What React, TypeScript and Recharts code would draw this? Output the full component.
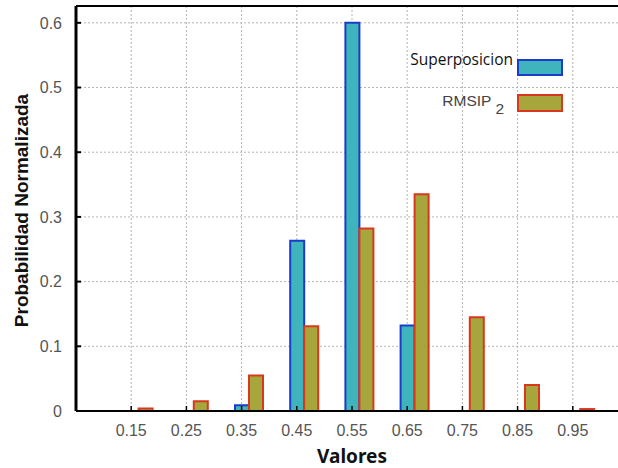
import React from 'react'
import { BarChart, Bar, XAxis, YAxis, CartesianGrid, Legend, Label } from 'recharts'

// bins (centre of each histogram bin) and normalised probabilities
const categories = ['0.15', '0.25', '0.35', '0.45', '0.55', '0.65', '0.75', '0.85', '0.95']
const binCenters = [0.15, 0.25, 0.35, 0.45, 0.55, 0.65, 0.75, 0.85, 0.95]
const superposicion = [0, 0, 0.009, 0.263, 0.6, 0.132, 0, 0, 0]
const rmsip2 = [0.004, 0.015, 0.055, 0.131, 0.282, 0.335, 0.145, 0.04, 0.003]
const yTicks = [0, 0.1, 0.2, 0.3, 0.4, 0.5, 0.6]

const data = categories.map((label, i) => ({
  label,
  x: binCenters[i],
  superposicion: superposicion[i],
  rmsip2: rmsip2[i],
}))

const CHART_W = 640
const CHART_H = 468
const MARGIN = { top: 5, right: 12, bottom: 0, left: 0 }
const TOP_AXIS_H = 1
const Y_AXIS_W = 76
const X_AXIS_H = 57
const X_MIN = 0.05
const X_MAX = 1.05
const Y_MAX = 0.626
const BAR = 14
const TICK_LEN = 5

// the hidden band axis is padded so the first bar of each pair is centred on its tick
const plotW = CHART_W - MARGIN.left - MARGIN.right - Y_AXIS_W
const pxPerUnit = plotW / (X_MAX - X_MIN)
const bandW = 0.1 * pxPerUnit
const padLeft = (binCenters[0] - X_MIN) * pxPerUnit - bandW / 2 + BAR / 2
const padRight = plotW - padLeft - bandW * categories.length

const tickFont = { fill: '#555', fontSize: 16, fontFamily: 'Liberation Sans, Arial, sans-serif' }

const renderLegend = () => (
  <div style={{ position: 'relative', width: 170, height: 70 }}>
    <div
      style={{
        position: 'absolute',
        right: 57,
        top: 3,
        lineHeight: '16px',
        fontSize: 15.5,
        fontFamily: 'Open Sans, sans-serif',
        color: '#111',
        whiteSpace: 'nowrap',
      }}
    >
      Superposicion
    </div>
    <div
      style={{
        position: 'absolute',
        left: 117,
        top: 11,
        width: 46,
        height: 17,
        boxSizing: 'border-box',
        border: '2px solid #1a3ccc',
        background: '#3fb4bc',
      }}
    />
    <div
      style={{
        position: 'absolute',
        right: 66,
        top: 45,
        lineHeight: '16px',
        fontSize: 15.5,
        fontFamily: 'Liberation Sans, Arial, sans-serif',
        color: '#444',
        whiteSpace: 'nowrap',
      }}
    >
      RMSIP
      <span style={{ position: 'relative', top: 8, marginLeft: 4 }}>2</span>
    </div>
    <div
      style={{
        position: 'absolute',
        left: 117,
        top: 46,
        width: 46,
        height: 18,
        boxSizing: 'border-box',
        border: '2px solid #d9381e',
        background: '#a6a63c',
      }}
    />
  </div>
)

export default function App() {
  return (
    <div
      style={{
        position: 'absolute',
        left: 0,
        top: 0,
        width: 618,
        height: 468,
        overflow: 'hidden',
        background: '#fff',
      }}
    >
      <BarChart width={CHART_W} height={CHART_H} data={data} margin={MARGIN} barGap={0}>
        <CartesianGrid xAxisId='num' strokeDasharray='2 2' stroke='#b4b4b4' />

        {/* band axis only used to place the bars */}
        <XAxis xAxisId='cat' dataKey='label' hide height={0} padding={{ left: padLeft, right: padRight }} />

        {/* visible value axis at the bottom */}
        <XAxis
          xAxisId='num'
          type='number'
          dataKey='x'
          domain={[X_MIN, X_MAX]}
          ticks={binCenters}
          tickFormatter={(v: number) => v.toFixed(2)}
          height={X_AXIS_H}
          tickSize={-TICK_LEN}
          tickMargin={19}
          tick={tickFont}
          axisLine={{ stroke: '#000', strokeWidth: 2 }}
          tickLine={{ stroke: '#000', strokeWidth: 1.5 }}
        >
          <Label
            content={({ viewBox }: any) => (
              <text
                x={viewBox.x + viewBox.width / 2}
                y={viewBox.y + 52}
                textAnchor='middle'
                fontSize={19}
                fontWeight='bold'
                fontFamily='Noto Sans, sans-serif'
                fill='#111'
              >
                Valores
              </text>
            )}
          />
        </XAxis>

        {/* top frame with inward ticks */}
        <XAxis
          xAxisId='top'
          orientation='top'
          type='number'
          dataKey='x'
          domain={[X_MIN, X_MAX]}
          ticks={binCenters}
          height={TOP_AXIS_H}
          tick={false}
          tickSize={-TICK_LEN}
          axisLine={{ stroke: '#000', strokeWidth: 2 }}
          tickLine={{ stroke: '#000', strokeWidth: 1.5 }}
        />

        {/* left frame, drawn a little thicker so it reads like the reference's */}
        <YAxis
          domain={[0, Y_MAX]}
          ticks={yTicks}
          width={Y_AXIS_W}
          tickFormatter={(v: number) => (v === 0 ? '0' : v.toFixed(1))}
          tickSize={-TICK_LEN}
          tickMargin={19}
          tick={tickFont}
          axisLine={{ stroke: '#000', strokeWidth: 3 }}
          tickLine={{ stroke: '#000', strokeWidth: 2 }}
        >
          <Label
            content={({ viewBox }: any) => {
              const cx = viewBox.x + 28
              const cy = viewBox.y + viewBox.height / 2 + 2
              return (
                <text
                  x={cx}
                  y={cy}
                  transform={`rotate(-90, ${cx}, ${cy})`}
                  textAnchor='middle'
                  fontSize={19}
                  fontWeight='bold'
                  fontFamily='Liberation Sans, Arial, sans-serif'
                  fill='#111'
                >
                  Probabilidad Normalizada
                </text>
              )
            }}
          />
        </YAxis>

        <Legend
          layout='vertical'
          align='center'
          verticalAlign='middle'
          wrapperStyle={{ left: 400, top: 48, width: 170, height: 70 }}
          content={renderLegend}
        />

        <Bar
          xAxisId='cat'
          dataKey='superposicion'
          name='Superposicion'
          fill='#3fb4bc'
          stroke='#1a3ccc'
          strokeWidth={2}
          barSize={BAR}
          isAnimationActive={false}
        />
        <Bar
          xAxisId='cat'
          dataKey='rmsip2'
          name='RMSIP2'
          fill='#a6a63c'
          stroke='#d9381e'
          strokeWidth={2}
          barSize={BAR}
          isAnimationActive={false}
        />
      </BarChart>
    </div>
  )
}
